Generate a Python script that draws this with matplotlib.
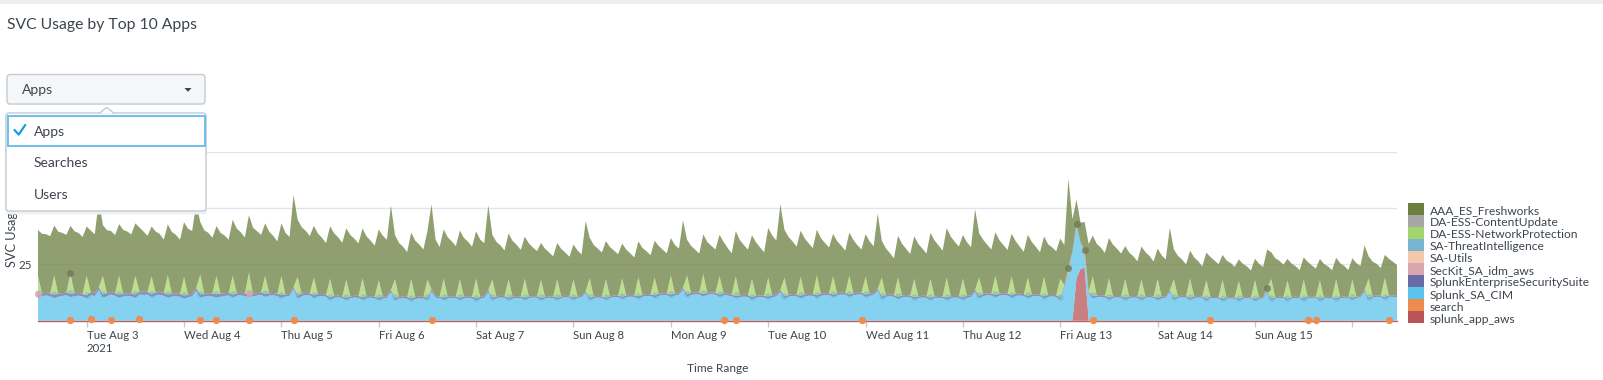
import numpy as np
import pandas as pd
import matplotlib
matplotlib.use("Agg")
import matplotlib.pyplot as plt
from matplotlib.patches import FancyBboxPatch, Rectangle, Polygon
from matplotlib.ticker import FuncFormatter

plt.rcParams['font.family'] = ['Lato', 'DejaVu Sans']

# ---------------- data (hourly, starting 2021-08-02 12:00; one row = one day) ----------------
hours = pd.date_range('2021-08-02 12:00', periods=336, freq='h')

freshworks_rows = [
    [20.3, 26.5, 26.0, 25.4, 22.1, 27.6, 26.8, 25.6, 21.0, 27.5, 26.5, 25.3, 21.8, 27.3, 26.3, 38.5, 22.5, 28.0, 27.0, 25.8, 22.9, 28.4, 27.4, 26.2],
    [23.3, 28.3, 26.8, 24.8, 22.1, 27.1, 25.6, 23.6, 22.5, 27.5, 26.0, 24.0, 24.3, 29.3, 27.8, 37.5, 23.3, 28.3, 26.8, 24.8, 22.1, 27.1, 25.6, 23.6],
    [24.8, 28.8, 26.8, 24.8, 25.5, 29.5, 27.5, 25.5, 23.3, 27.3, 25.3, 23.3, 23.3, 27.3, 25.3, 40.7, 25.5, 29.5, 27.5, 25.5, 22.9, 26.9, 24.9, 22.9],
    [23.3, 27.8, 25.8, 23.8, 22.8, 27.3, 25.3, 23.3, 22.1, 26.6, 24.6, 22.6, 22.5, 27.0, 25.0, 37.5, 19.5, 24.0, 22.0, 20.0, 20.6, 25.1, 23.1, 21.1],
    [21.5, 37.7, 25.0, 22.0, 21.8, 26.3, 24.3, 22.3, 21.6, 26.1, 24.1, 22.1, 21.0, 25.5, 23.5, 37.5, 19.8, 24.3, 22.3, 20.3, 20.3, 24.8, 22.8, 20.8],
    [18.6, 23.6, 21.6, 20.1, 16.4, 21.4, 19.4, 17.9, 16.1, 21.1, 19.1, 17.6, 15.4, 20.4, 18.4, 31.0, 18.0, 23.0, 21.0, 19.5, 16.9, 21.9, 19.9, 18.4],
    [15.4, 20.4, 18.4, 16.9, 15.9, 20.9, 18.9, 17.4, 16.3, 21.3, 19.3, 17.8, 16.6, 21.6, 19.6, 29.8, 15.9, 20.9, 18.9, 17.4, 17.6, 22.6, 20.6, 19.1],
    [18.3, 22.8, 20.3, 18.3, 20.1, 24.6, 22.1, 20.1, 19.3, 23.8, 21.3, 19.3, 22.0, 26.5, 24.0, 38.0, 21.3, 25.8, 23.3, 21.3, 20.4, 24.9, 22.4, 20.4],
    [20.3, 24.8, 22.3, 20.3, 18.8, 23.3, 20.8, 18.8, 19.1, 23.6, 21.1, 19.1, 18.8, 23.3, 20.8, 33.3, 16.3, 20.8, 18.3, 16.3, 18.5, 23.0, 20.5, 18.5],
    [18.9, 23.4, 20.9, 18.9, 20.4, 24.9, 22.4, 20.4, 22.0, 26.5, 24.0, 22.0, 19.3, 23.8, 21.3, 35.8, 19.6, 24.1, 21.6, 19.6, 19.3, 23.8, 21.3, 19.3],
    [18.9, 23.4, 20.9, 18.9, 18.9, 23.4, 20.9, 18.9, 17.9, 22.5, 21.0, 19.5, 17.9, 17.7, 39.8, 14.2, 10.6, 8.7, 12.6, 21.2, 18.1, 23.0, 21.0, 19.0],
    [17.9, 22.9, 20.9, 18.9, 14.6, 19.6, 17.6, 15.6, 14.6, 19.6, 17.6, 15.6, 13.4, 18.4, 16.4, 27.6, 13.1, 18.1, 16.1, 14.1, 12.4, 17.4, 15.4, 13.4],
    [12.2, 17.7, 16.2, 14.7, 11.1, 16.6, 15.1, 13.6, 9.5, 15.0, 13.5, 12.0, 9.5, 15.0, 13.5, 16.9, 11.9, 17.4, 15.9, 14.4, 9.5, 15.0, 13.5, 12.0],
    [9.9, 15.4, 13.9, 12.4, 9.5, 15.0, 13.5, 12.0, 9.5, 15.0, 13.5, 12.0, 9.4, 14.9, 13.4, 19.7, 9.9, 15.4, 13.9, 12.4, 10.2, 16.2, 15.0, 13.7],
]

netprot_rows = [
    [7.8, 0, 0, 0, 8.3, 0, 0, 0, 8.0, 0, 0, 0, 8.5, 0, 0, 0, 7.9, 0, 0, 0, 8.2, 0, 0, 0],
    [8.1, 0, 0, 0, 7.7, 0, 0, 0, 8.4, 0, 0, 0, 8.0, 0, 0, 0, 8.6, 0, 0, 0, 7.9, 0, 0, 0],
    [8.2, 0, 0, 0, 8.8, 0, 0, 0, 7.8, 0, 0, 0, 8.3, 0, 0, 0, 8.0, 0, 0, 0, 7.6, 0, 0, 0],
    [8.0, 0, 0, 0, 7.9, 0, 0, 0, 8.3, 0, 0, 0, 7.7, 0, 0, 0, 8.1, 0, 0, 0, 8.4, 0, 0, 0],
    [7.9, 0, 0, 0, 8.2, 0, 0, 0, 8.0, 0, 0, 0, 8.5, 0, 0, 0, 7.8, 0, 0, 0, 8.1, 0, 0, 0],
    [8.3, 0, 0, 0, 7.8, 0, 0, 0, 8.1, 0, 0, 0, 7.9, 0, 0, 0, 8.4, 0, 0, 0, 8.0, 0, 0, 0],
    [8.0, 0, 0, 0, 8.2, 0, 0, 0, 7.7, 0, 0, 0, 8.3, 0, 0, 0, 8.1, 0, 0, 0, 8.6, 0, 0, 0],
    [8.1, 0, 0, 0, 8.4, 0, 0, 0, 7.9, 0, 0, 0, 8.2, 0, 0, 0, 8.0, 0, 0, 0, 8.3, 0, 0, 0],
    [8.5, 0, 0, 0, 8.0, 0, 0, 0, 8.2, 0, 0, 0, 7.8, 0, 0, 0, 8.1, 0, 0, 0, 8.4, 0, 0, 0],
    [8.0, 0, 0, 0, 8.3, 0, 0, 0, 8.6, 0, 0, 0, 8.1, 0, 0, 0, 7.9, 0, 0, 0, 8.2, 0, 0, 0],
    [8.2, 0, 0, 0, 8.0, 0, 0, 0, 8.4, 0, 0, 0, 8.0, 0, 0, 0, 0.0, 0, 0, 0, 8.5, 0, 0, 0],
    [8.3, 0, 0, 0, 8.1, 0, 0, 0, 7.9, 0, 0, 0, 8.2, 0, 0, 0, 8.0, 0, 0, 0, 8.4, 0, 0, 0],
    [8.0, 0, 0, 0, 8.2, 0, 0, 0, 7.8, 0, 0, 0, 8.1, 0, 0, 0, 8.5, 0, 0, 0, 7.9, 0, 0, 0],
    [8.1, 0, 0, 0, 7.9, 0, 0, 0, 8.3, 0, 0, 0, 8.0, 0, 0, 0, 8.2, 0, 0, 0, 8.4, 0, 0, 0],
]

threat_rows = [
    [0.3, 0, 0, 0, 0.3, 0, 0, 0, 0.3, 0, 0, 0, 0.3, 0, 0, 0, 0.3, 0, 0, 0, 0.3, 0, 0, 0],
    [0.3, 0, 0, 0, 0.3, 0, 0, 0, 0.3, 0, 0, 0, 0.3, 0, 0, 0, 0.3, 0, 0, 0, 0.3, 0, 0, 0],
    [0.3, 0, 0, 0, 0.3, 0, 0, 0, 0.3, 0, 0, 0, 0.3, 0, 0, 0, 0.3, 0, 0, 0, 0.3, 0, 0, 0],
    [0.3, 0, 0, 0, 0.3, 0, 0, 0, 0.3, 0, 0, 0, 0.3, 0, 0, 0, 0.3, 0, 0, 0, 0.3, 0, 0, 0],
    [0.3, 0, 0, 0, 0.3, 0, 0, 0, 0.3, 0, 0, 0, 0.3, 0, 0, 0, 0.3, 0, 0, 0, 0.3, 0, 0, 0],
    [0.3, 0, 0, 0, 0.3, 0, 0, 0, 0.3, 0, 0, 0, 0.3, 0, 0, 0, 0.3, 0, 0, 0, 0.3, 0, 0, 0],
    [0.3, 0, 0, 0, 0.3, 0, 0, 0, 0.3, 0, 0, 0, 0.3, 0, 0, 0, 0.3, 0, 0, 0, 0.3, 0, 0, 0],
    [0.3, 0, 0, 0, 0.3, 0, 0, 0, 0.3, 0, 0, 0, 0.3, 0, 0, 0, 0.3, 0, 0, 0, 0.3, 0, 0, 0],
    [0.3, 0, 0, 0, 0.3, 0, 0, 0, 0.3, 0, 0, 0, 0.3, 0, 0, 0, 0.3, 0, 0, 0, 0.3, 0, 0, 0],
    [0.3, 0, 0, 0, 0.3, 0, 0, 0, 0.3, 0, 0, 0, 0.3, 0, 0, 0, 0.3, 0, 0, 0, 0.3, 0, 0, 0],
    [0.3, 0, 0, 0, 0.3, 0, 0, 0, 0.3, 0, 0, 0, 0.3, 0, 0, 0, 0.0, 0, 0, 0, 0.3, 0, 0, 0],
    [0.3, 0, 0, 0, 0.3, 0, 0, 0, 0.3, 0, 0, 0, 0.3, 0, 0, 0, 0.3, 0, 0, 0, 0.3, 0, 0, 0],
    [0.3, 0, 0, 0, 0.3, 0, 0, 0, 0.3, 0, 0, 0, 0.3, 0, 0, 0, 0.3, 0, 0, 0, 0.3, 0, 0, 0],
    [0.3, 0, 0, 0, 0.3, 0, 0, 0, 0.3, 0, 0, 0, 0.3, 0, 0, 0, 0.3, 0, 0, 0, 0.3, 0, 0, 0],
]

cim_rows = [
    [10.0, 10.9, 11.2, 10.8, 10.1, 10.6, 11.0, 11.3, 10.2, 10.8, 11.1, 10.7, 10.0, 10.6, 10.9, 13.6, 10.3, 10.9, 11.3, 11.0, 10.2, 10.7, 11.0, 10.8],
    [10.1, 10.8, 11.4, 11.6, 10.5, 11.2, 11.5, 11.0, 10.2, 10.7, 10.9, 10.6, 9.9, 10.4, 10.8, 13.3, 10.1, 10.7, 11.0, 10.7, 10.0, 10.6, 11.0, 11.2],
    [10.4, 11.1, 11.3, 10.9, 10.2, 10.8, 11.2, 11.5, 10.6, 11.1, 11.3, 10.9, 10.2, 10.7, 10.9, 13.7, 10.1, 10.9, 11.4, 11.2, 10.3, 10.8, 11.0, 10.6],
    [9.5, 10.1, 10.4, 10.0, 9.3, 9.9, 10.3, 10.1, 9.4, 10.0, 10.2, 9.9, 9.2, 9.8, 10.1, 12.7, 9.3, 9.8, 10.0, 9.7, 9.1, 9.6, 9.9, 9.8],
    [9.3, 12.7, 10.2, 10.0, 9.4, 9.9, 10.2, 10.0, 9.3, 9.9, 10.2, 9.9, 9.2, 9.7, 10.1, 12.7, 9.4, 10.0, 10.3, 10.1, 9.3, 9.8, 10.1, 9.9],
    [9.4, 10.0, 10.3, 10.1, 9.3, 9.9, 10.2, 10.0, 9.4, 10.0, 10.4, 10.2, 9.5, 10.1, 10.4, 12.3, 9.4, 10.0, 10.3, 10.1, 9.5, 10.1, 10.5, 10.4],
    [9.8, 10.4, 10.7, 10.5, 10.0, 10.6, 11.0, 10.9, 10.4, 11.0, 11.4, 11.3, 10.6, 11.2, 11.6, 13.7, 10.8, 11.4, 11.8, 11.6, 10.9, 11.5, 11.8, 11.6],
    [10.6, 11.0, 11.2, 10.8, 9.9, 10.4, 10.7, 10.5, 9.6, 10.2, 10.5, 10.3, 9.8, 10.4, 10.8, 12.7, 10.0, 10.6, 11.0, 10.8, 10.1, 10.7, 11.1, 11.0],
    [10.4, 11.0, 11.4, 11.3, 10.6, 11.2, 11.6, 11.5, 10.7, 11.3, 11.6, 11.4, 10.6, 11.1, 11.4, 13.2, 10.0, 10.6, 10.9, 10.6, 9.8, 10.3, 10.6, 10.4],
    [9.5, 10.0, 10.3, 10.1, 9.3, 9.9, 10.2, 10.0, 9.4, 10.0, 10.3, 10.1, 9.5, 10.1, 10.5, 12.7, 10.2, 10.9, 11.3, 11.2, 10.5, 11.1, 11.4, 11.2],
    [10.4, 11.0, 11.2, 10.9, 10.2, 10.7, 11.0, 10.8, 10.0, 10.6, 10.8, 10.5, 9.5, 15.0, 20.0, 30.0, 22.8, 11.0, 3.5, 12.0, 9.8, 10.4, 10.6, 10.3],
    [9.5, 10.1, 10.4, 10.2, 9.4, 10.0, 10.3, 10.1, 9.5, 10.1, 10.4, 10.1, 9.4, 9.9, 10.2, 12.7, 9.5, 10.1, 10.4, 10.2, 9.4, 10.0, 10.3, 10.1],
    [9.1, 9.7, 10.0, 9.8, 9.0, 9.6, 9.9, 9.7, 9.1, 9.7, 10.0, 9.8, 9.0, 9.6, 9.9, 12.4, 9.1, 9.8, 10.1, 9.9, 9.2, 9.8, 10.1, 9.9],
    [9.2, 9.8, 10.1, 9.9, 9.1, 9.7, 10.0, 9.8, 9.3, 9.9, 10.2, 10.0, 9.4, 10.0, 10.4, 12.9, 9.6, 10.2, 10.6, 10.4, 9.7, 10.3, 10.6, 10.4],
]

ess_rows = [
    [1.3, 1.2, 1.2, 1.3, 1.4, 1.3, 1.2, 1.2, 1.3, 1.4, 1.3, 1.2, 1.2, 1.3, 1.2, 1.3, 1.4, 1.3, 1.2, 1.2, 1.3, 1.2, 1.2, 1.3],
    [1.4, 1.5, 1.4, 1.3, 1.2, 1.3, 1.4, 1.4, 1.3, 1.2, 1.2, 1.3, 1.2, 1.1, 1.2, 1.3, 1.2, 1.1, 1.2, 1.3, 1.4, 1.3, 1.2, 1.2],
    [1.1, 1.0, 1.1, 1.2, 1.1, 1.0, 1.0, 1.1, 1.2, 1.1, 1.0, 1.0, 1.1, 1.0, 0.9, 1.1, 1.0, 1.1, 1.0, 0.9, 1.0, 1.0, 0.9, 0.9],
    [0.8, 0.9, 0.8, 0.8, 0.7, 0.8, 0.8, 0.9, 0.8, 0.8, 0.7, 0.8, 0.8, 0.9, 0.8, 1.0, 0.8, 0.7, 0.8, 0.8, 0.7, 0.8, 0.8, 0.7],
    [0.8, 1.0, 0.8, 0.7, 0.8, 0.8, 0.7, 0.8, 0.8, 0.7, 0.8, 0.8, 0.7, 0.8, 0.8, 1.0, 0.8, 0.7, 0.8, 0.8, 0.7, 0.8, 0.8, 0.7],
    [0.7, 0.7, 0.6, 0.7, 0.7, 0.6, 0.7, 0.7, 0.6, 0.7, 0.7, 0.6, 0.7, 0.7, 0.6, 0.9, 0.7, 0.6, 0.7, 0.7, 0.6, 0.7, 0.7, 0.7],
    [0.7, 0.8, 0.8, 0.7, 0.8, 0.8, 0.9, 0.8, 0.8, 0.9, 0.8, 0.8, 0.9, 0.8, 0.8, 1.0, 0.8, 0.9, 0.8, 0.8, 0.9, 0.8, 0.8, 0.9],
    [0.8, 0.9, 0.8, 0.8, 0.7, 0.8, 0.8, 0.9, 0.8, 0.8, 0.7, 0.8, 0.8, 0.9, 0.8, 1.0, 0.8, 0.8, 0.9, 0.8, 0.8, 0.9, 0.8, 0.8],
    [0.9, 0.8, 0.8, 0.9, 0.8, 0.8, 0.9, 0.8, 0.8, 0.9, 0.8, 0.8, 0.9, 0.8, 0.8, 1.0, 0.8, 0.7, 0.8, 0.8, 0.7, 0.8, 0.8, 0.7],
    [0.8, 0.7, 0.8, 0.8, 0.7, 0.8, 0.8, 0.7, 0.8, 0.8, 0.7, 0.8, 0.8, 0.9, 0.8, 1.0, 0.8, 0.9, 0.8, 0.8, 0.9, 0.8, 0.8, 0.9],
    [0.8, 0.9, 0.8, 0.8, 0.7, 0.8, 0.8, 0.7, 0.8, 0.8, 0.7, 0.8, 0.8, 0.8, 0.8, 0.8, 0.8, 0.8, 0.8, 0.8, 0.8, 0.7, 0.8, 0.8],
    [0.7, 0.7, 0.6, 0.7, 0.7, 0.6, 0.7, 0.7, 0.6, 0.7, 0.7, 0.6, 0.7, 0.7, 0.6, 0.9, 0.7, 0.6, 0.7, 0.7, 0.6, 0.7, 0.7, 0.6],
    [0.6, 0.6, 0.5, 0.6, 0.6, 0.5, 0.6, 0.6, 0.5, 0.6, 0.6, 0.5, 0.6, 0.6, 0.5, 0.8, 0.6, 0.5, 0.6, 0.6, 0.5, 0.6, 0.6, 0.5],
    [0.6, 0.6, 0.5, 0.6, 0.6, 0.5, 0.6, 0.6, 0.5, 0.6, 0.6, 0.5, 0.6, 0.6, 0.5, 0.8, 0.6, 0.6, 0.7, 0.6, 0.6, 0.7, 0.6, 0.6],
]

# sparse series (only the hours listed are non-zero)
aws_times = ['2021-08-13 03:00', '2021-08-13 04:00', '2021-08-13 05:00', '2021-08-13 06:00', '2021-08-13 07:00']
aws_vals = [0.0, 19.0, 23.0, 23.5, 0.0]

search_times = ['2021-08-02 20:00', '2021-08-03 01:00', '2021-08-03 06:00', '2021-08-03 13:00',
                '2021-08-04 04:00', '2021-08-04 08:00', '2021-08-04 16:00', '2021-08-05 03:00',
                '2021-08-06 13:00', '2021-08-09 13:00', '2021-08-09 16:00', '2021-08-10 23:00',
                '2021-08-13 08:00', '2021-08-14 13:00', '2021-08-15 13:00', '2021-08-15 15:00',
                '2021-08-16 09:00']
search_vals = [0.3, 0.8, 0.3, 0.8, 0.3, 0.3, 0.3, 0.3, 0.3, 0.3, 0.3, 0.3, 0.3, 0.3, 0.3, 0.3, 0.3]

seckit_times = ['2021-08-02 12:00', '2021-08-04 16:00']
seckit_vals = [0.5, 0.6]

content_times = ['2021-08-02 20:00', '2021-08-13 02:00', '2021-08-13 04:00', '2021-08-13 06:00', '2021-08-15 03:00']
content_vals = [1.0, 2.4, 0.5, 3.4, 1.5]

legend_names = ['AAA_ES_Freshworks', 'DA-ESS-ContentUpdate', 'DA-ESS-NetworkProtection',
                'SA-ThreatIntelligence', 'SA-Utils', 'SecKit_SA_idm_aws',
                'SplunkEnterpriseSecuritySuite', 'Splunk_SA_CIM', 'search', 'splunk_app_aws']
legend_colors = ['#6b7f3f', '#a6a6a6', '#a4d46c', '#78b4d0', '#f5c8ae', '#d9a6ad',
                 '#6a6aa6', '#5bc4ec', '#ee8b4d', '#b85458']

x_tick_days = pd.date_range('2021-08-03', '2021-08-16', freq='D')

# ---------------- assemble ----------------
def flat(rows):
    return np.array([v for r in rows for v in r], dtype=float)

def sparse(times, vals):
    s = pd.Series(vals, index=pd.to_datetime(times))
    return s.reindex(hours, fill_value=0.0).to_numpy(dtype=float)

series = {
    'AAA_ES_Freshworks': flat(freshworks_rows),
    'DA-ESS-ContentUpdate': sparse(content_times, content_vals),
    'DA-ESS-NetworkProtection': flat(netprot_rows),
    'SA-ThreatIntelligence': flat(threat_rows),
    'SA-Utils': np.zeros(len(hours)),
    'SecKit_SA_idm_aws': sparse(seckit_times, seckit_vals),
    'SplunkEnterpriseSecuritySuite': flat(ess_rows),
    'Splunk_SA_CIM': flat(cim_rows),
    'search': sparse(search_times, search_vals),
    'splunk_app_aws': sparse(aws_times, aws_vals),
}
color_of = dict(zip(legend_names, legend_colors))
stack_order = legend_names[::-1]  # bottom -> top

W, H = 1603, 380
L, R, T, B = 38, 1397, 151.7, 320.7
fig = plt.figure(figsize=(W / 100, H / 100), dpi=100)
ax = fig.add_axes([L / W, 1 - B / H, (R - L) / W, (B - T) / H])

vals = [series[n] for n in stack_order]
ax.stackplot(hours, *vals, colors=[color_of[n] for n in stack_order], alpha=0.75, lw=0)
cum = np.cumsum(np.vstack(vals), axis=0)
top_of = {n: cum[i] for i, n in enumerate(stack_order)}

def marks(name, idx, color, ms, alpha=1.0):
    ax.plot(hours[idx], top_of[name][idx], 'o', color=color, ms=ms, mec='none',
            alpha=alpha, clip_on=False, zorder=5)

def idx_of(times):
    return hours.get_indexer(pd.to_datetime(times))

threat = series['SA-ThreatIntelligence']
marks('SA-ThreatIntelligence', np.nonzero(threat)[0], '#5a9fc4', 4.6, 0.35)
marks('search', idx_of(search_times), '#ee8b4d', 5.2)
marks('SecKit_SA_idm_aws', idx_of(seckit_times), '#d9a6ad', 5.0, 0.85)
marks('DA-ESS-ContentUpdate', idx_of(content_times), '#6f7b52', 5.0, 0.8)

ax.set_xlim(hours[0], hours[-1])
ax.set_ylim(0, 75)
ax.set_yticks([0, 25, 50, 75])
ax.yaxis.set_major_formatter(FuncFormatter(lambda v, p: '' if v == 0 else f'{v:g}'))
ax.yaxis.grid(True, color='#e1e6eb', lw=1)
ax.set_axisbelow(True)
for s in ['top', 'right', 'left']:
    ax.spines[s].set_visible(False)
ax.spines['bottom'].set_color('#b86466')
ax.spines['bottom'].set_linewidth(1.0)

ax.set_xticks(x_tick_days)
labels = []
for i, d in enumerate(x_tick_days):
    lab = f"{d:%a} {d:%b} {d.day}"
    if i == 0:
        lab += "\n2021"
    if i == len(x_tick_days) - 1:
        lab = ''
    labels.append(lab)
ax.set_xticklabels(labels)
for lab in ax.get_xticklabels():
    lab.set_ha('left')
ax.tick_params(axis='x', length=4.3, width=1, color='#c3cbd4', labelsize=8.2,
               labelcolor='#3c444d', pad=2.5)
ax.tick_params(axis='y', length=0, labelsize=8.4, labelcolor='#3c444d', pad=4.5)

ax.set_xlabel('Time Range', fontsize=8.6, color='#3c444d')
ax.xaxis.set_label_coords(0.5, -(371.5 - B) / (B - T))
ax.xaxis.label.set_va('baseline')
ax.set_ylabel('SVC Usage', fontsize=9.2, color='#3c444d')
ax.yaxis.set_label_coords(-(L - 12.5) / (R - L), 0.5)
ax.yaxis.label.set_va('center')

# ---------------- overlay: title, dropdown, legend ----------------
ov = fig.add_axes([0, 0, 1, 1], zorder=10)
ov.set_xlim(0, W)
ov.set_ylim(H, 0)
ov.axis('off')
ov.patch.set_alpha(0)

ov.add_patch(Rectangle((0, 0), W, 3.5, fc='#eeeeee', ec='none'))
ov.text(7, 29.3, 'SVC Usage by Top 10 Apps', fontsize=11.3, color='#3c444d', va='baseline', ha='left')

# dropdown button
ov.add_patch(FancyBboxPatch((7, 74.5), 198, 29.5, boxstyle='round,pad=0,rounding_size=3',
                            fc='#f5f6f8', ec='#c3cbd4', lw=1))
ov.text(21.5, 94.3, 'Apps', fontsize=10.0, color='#3c444d', va='baseline')
ov.add_patch(Polygon([(184.5, 88.0), (191.5, 88.0), (188.0, 91.8)], closed=True, fc='#3c444d', ec='none'))

# popup shadow + body
ov.add_patch(FancyBboxPatch((5, 113), 202, 101.5, boxstyle='round,pad=0,rounding_size=4',
                            fc='#f0f0f0', ec='none'))
ov.add_patch(FancyBboxPatch((6, 113), 200, 98, boxstyle='round,pad=0,rounding_size=3',
                            fc='white', ec='#c3cbd4', lw=1))
ov.add_patch(Polygon([(99.5, 113.6), (106.7, 107.3), (113.9, 113.6)], closed=True,
                     fc='white', ec='none'))
ov.plot([99.5, 106.7, 113.9], [113.3, 107.3, 113.3], color='#c3cbd4', lw=1)
ov.add_patch(Rectangle((7.5, 116), 197, 29.7, fc='white', ec='#62bce9', lw=1.3))
ov.plot([14.5, 18.7, 25.2], [130.0, 134.6, 125.0], color='#1a9ce0', lw=1.6,
        solid_capstyle='round', solid_joinstyle='round')
ov.text(34, 135.6, 'Apps', fontsize=10.0, color='#3c444d', va='baseline')
ov.text(34, 167.3, 'Searches', fontsize=10.0, color='#3c444d', va='baseline')
ov.text(34, 199.3, 'Users', fontsize=10.0, color='#3c444d', va='baseline')

# legend
for j, (name, c) in enumerate(zip(legend_names, legend_colors)):
    ov.add_patch(Rectangle((1408, 203.4 + j * 11.95), 15.5, 11.95, fc=c, ec='none'))
    ov.text(1429.5, 214.3 + j * 12.03, name, fontsize=8.65, color='#3c444d', va='baseline')

fig.savefig('out.png', dpi=100)
